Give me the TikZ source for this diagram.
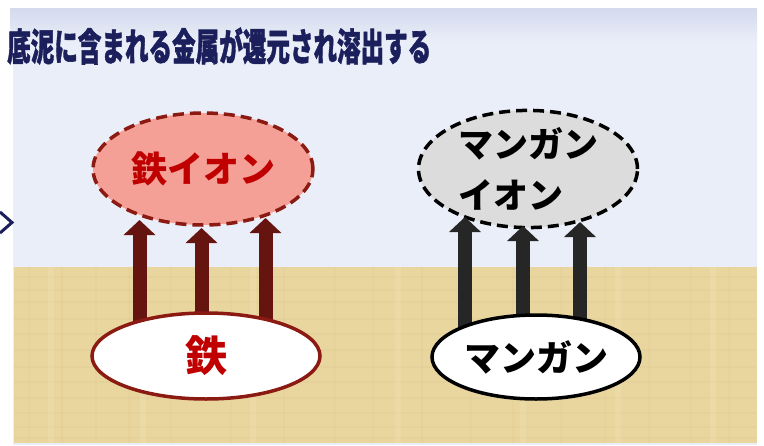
\documentclass[tikz,border=0pt]{standalone}
\usepackage{fontspec}
\setmainfont{Noto Sans CJK JP}
\usetikzlibrary{shapes.geometric,arrows.meta}
\definecolor{navy}{HTML}{1B1F5C}
\definecolor{panel}{HTML}{EAEEF8}
\definecolor{paneltop}{HTML}{D3DAED}
\definecolor{sand}{HTML}{E9D59E}
\definecolor{sanddark}{HTML}{D8C088}
\definecolor{sandlight}{HTML}{F1E3B6}
\definecolor{feline}{HTML}{8B1A12}
\definecolor{fefill}{HTML}{F4A097}
\definecolor{fetext}{HTML}{C00000}
\definecolor{fearrowc}{HTML}{661410}
\definecolor{mnfill}{HTML}{DCDCDC}
\definecolor{mnarrowc}{HTML}{262626}
\tikzset{
  ionbox/.style={ellipse, line width=3.5pt, dash pattern=on 11pt off 6pt, inner sep=0pt, font=\bfseries},
  metalbox/.style={ellipse, line width=3.5pt, fill=white, inner sep=0pt, font=\bfseries},
  fearrow/.style={draw=fearrowc, line width=14pt, -{Triangle[length=15pt,width=31pt]}},
  mnarrow/.style={draw=mnarrowc, line width=14pt, -{Triangle[length=15pt,width=31pt]}},
}
\begin{document}
\begin{tikzpicture}[x=1pt,y=-1pt]
\useasboundingbox (0,0) rectangle (764,445);
\fill[white] (0,0) rectangle (764,445);
% panel
\fill[panel] (13,8) rectangle (757,445);
\shade[top color=paneltop, bottom color=panel] (10,8) rectangle (757,42);
% sand
\fill[sand] (14,267) rectangle (757,443);
\foreach \yy in {276,289,301,318,333,349,366,381,397,412,426,437} {
  \fill[sanddark, opacity=0.18] (14,\yy) rectangle (757,\yy+1.5);
}
\foreach \xx in {28,61,95,128,170,230,283,334,372,421,470,512,560,604,648,690,728} {
  \fill[sanddark, opacity=0.14] (\xx,267) rectangle (\xx+1.5,443);
}
\foreach \xx in {48,140,250,395,520,615,710} {
  \fill[sandlight, opacity=0.35] (\xx,267) rectangle (\xx+6,443);
}
% chevron
\coordinate (c1) at (0,212);
\coordinate (c2) at (12,222.5);
\coordinate (c3) at (0,233);
\draw[navy, line width=3pt] (c1) -- (c2) -- (c3);
% title
\node[anchor=west, inner sep=0pt, text=navy, font=\bfseries\addfontfeature{FakeBold=1.5}\fontsize{38}{40}\selectfont] (title) at (7,46)
  {\scalebox{0.62}[1]{底泥に含まれる金属が還元され溶出する}};
% ion ellipses
\node[ionbox, draw=feline, fill=fefill, text=fetext, minimum width=220pt, minimum height=112pt,
  font=\bfseries\fontsize{36}{40}\selectfont] (feion) at (203,169) {鉄イオン};
\node[ionbox, draw=black, fill=mnfill, text=black, minimum width=219pt, minimum height=112pt,
  align=left, font=\bfseries\fontsize{35}{51}\selectfont] (mnion) at (528,169) {マンガン\\イオン};
% arrow coordinates
\coordinate (fa1s) at (139.5,345); \coordinate (fa1e) at (139.5,220);
\coordinate (fa2s) at (201.5,345); \coordinate (fa2e) at (201.5,228);
\coordinate (fa3s) at (265.5,345); \coordinate (fa3e) at (265.5,218);
\coordinate (ma1s) at (465,345); \coordinate (ma1e) at (465,217);
\coordinate (ma2s) at (523,345); \coordinate (ma2e) at (523,226);
\coordinate (ma3s) at (580,345); \coordinate (ma3e) at (580,222);
\draw[fearrow] (fa1s) -- (fa1e);
\draw[fearrow] (fa2s) -- (fa2e);
\draw[fearrow] (fa3s) -- (fa3e);
\draw[mnarrow] (ma1s) -- (ma1e);
\draw[mnarrow] (ma2s) -- (ma2e);
\draw[mnarrow] (ma3s) -- (ma3e);
% metal ellipses
\node[metalbox, draw=feline, text=fetext, minimum width=228pt, minimum height=86pt,
  font=\bfseries\fontsize{42}{46}\selectfont] (fe) at (206,356) {鉄};
\node[metalbox, draw=black, text=black, minimum width=208pt, minimum height=84pt,
  font=\bfseries\fontsize{36}{40}\selectfont] (mn) at (536,357) {マンガン};
\end{tikzpicture}
\end{document}
